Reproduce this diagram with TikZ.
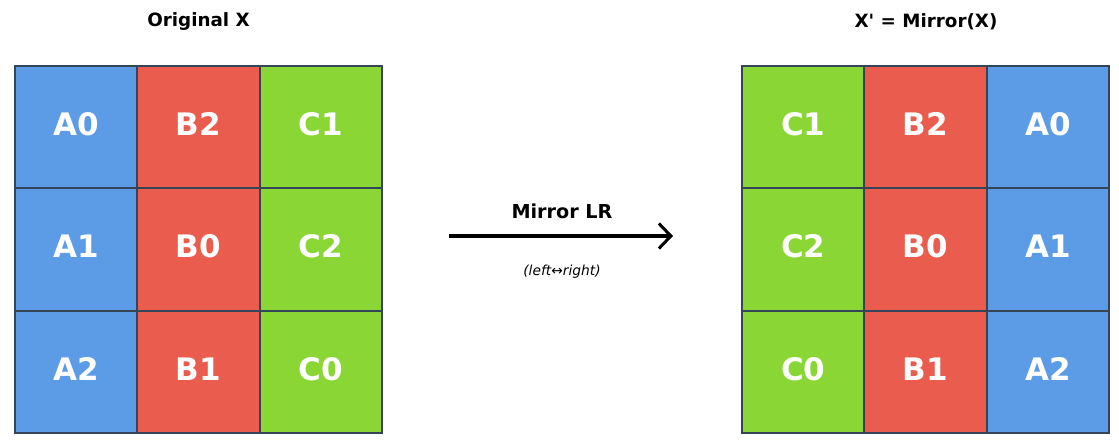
\documentclass[tikz,border=0pt]{standalone}
\usepackage{fontspec}
\setmainfont{DejaVu Sans}[Ligatures=TeXOff]
\usetikzlibrary{arrows.meta}
\definecolor{cblue}{RGB}{92,155,229}
\definecolor{cred}{RGB}{233,92,78}
\definecolor{cgreen}{RGB}{137,214,53}
\definecolor{cedge}{RGB}{52,69,88}
\begin{document}
\begin{tikzpicture}[x=1pt,y=-1pt,
  cell/.style={draw=cedge,line width=2pt,minimum width=122.33pt,minimum height=122.33pt,inner sep=0pt},
  bl/.style={cell,fill=cblue},
  rd/.style={cell,fill=cred},
  gr/.style={cell,fill=cgreen},
  lbl/.style={text=white,font=\bfseries\fontsize{31}{31}\selectfont,inner sep=0pt},
  ttl/.style={font=\bfseries\fontsize{18.3}{18.3}\selectfont,text=black,inner sep=0pt},
  note/.style={font=\itshape\fontsize{13.8}{13.8}\selectfont,inner sep=0pt}]
\useasboundingbox (0,0) rectangle (1119,445);
% left grid
\def\lx{15}\def\gy{66}\def\cs{122.33}
\node[bl] (L00) at (\lx+0.5*\cs,\gy+0.5*\cs) {};
\node[rd] (L01) at (\lx+1.5*\cs,\gy+0.5*\cs) {};
\node[gr] (L02) at (\lx+2.5*\cs,\gy+0.5*\cs) {};
\node[bl] (L10) at (\lx+0.5*\cs,\gy+1.5*\cs) {};
\node[rd] (L11) at (\lx+1.5*\cs,\gy+1.5*\cs) {};
\node[gr] (L12) at (\lx+2.5*\cs,\gy+1.5*\cs) {};
\node[bl] (L20) at (\lx+0.5*\cs,\gy+2.5*\cs) {};
\node[rd] (L21) at (\lx+1.5*\cs,\gy+2.5*\cs) {};
\node[gr] (L22) at (\lx+2.5*\cs,\gy+2.5*\cs) {};
% right grid
\def\rx{742}
\node[gr] (R00) at (\rx+0.5*\cs,\gy+0.5*\cs) {};
\node[rd] (R01) at (\rx+1.5*\cs,\gy+0.5*\cs) {};
\node[bl] (R02) at (\rx+2.5*\cs,\gy+0.5*\cs) {};
\node[gr] (R10) at (\rx+0.5*\cs,\gy+1.5*\cs) {};
\node[rd] (R11) at (\rx+1.5*\cs,\gy+1.5*\cs) {};
\node[bl] (R12) at (\rx+2.5*\cs,\gy+1.5*\cs) {};
\node[gr] (R20) at (\rx+0.5*\cs,\gy+2.5*\cs) {};
\node[rd] (R21) at (\rx+1.5*\cs,\gy+2.5*\cs) {};
\node[bl] (R22) at (\rx+2.5*\cs,\gy+2.5*\cs) {};
% cell labels (slightly above centre, as in the reference)
\foreach \n/\t in {L00/A0,L01/B2,L02/C1,L10/A1,L11/B0,L12/C2,L20/A2,L21/B1,L22/C0,
                   R00/C1,R01/B2,R02/A0,R10/C2,R11/B0,R12/A1,R20/C0,R21/B1,R22/A2}
  \node[lbl] (\n t) at ([yshift=3pt]\n.center) {\t};
% titles
\node[ttl] (t1) at (198.5,21.5) {Original X};
\node[ttl] (t2) at (926,21.5) {X' = Mirror(X)};
% arrow
\coordinate (as) at (449,236);
\coordinate (ae) at (673,236);
\draw[line width=3.2pt,-{Straight Barb[length=12pt,width=25pt,line width=3pt]}] (as) -- (ae);
\node[ttl,font=\bfseries\fontsize{19.2}{19.2}\selectfont] (lab) at (562,211.5) {Mirror LR};
\node[note] (sub) at (562,272) {(left↔right)};
\end{tikzpicture}
\end{document}
